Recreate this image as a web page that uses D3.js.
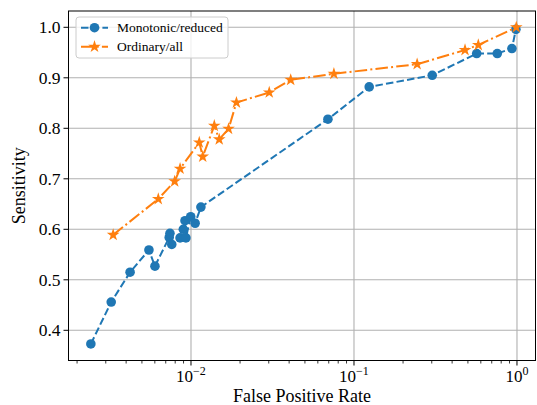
<!DOCTYPE html>
<html>
<head>
<meta charset="utf-8">
<script src="https://cdn.jsdelivr.net/npm/d3@7"></script>
<style>
  body { margin: 0; background: #fff; }
  text { font-family: "Liberation Serif", "DejaVu Serif", serif; fill: #000; }
</style>
</head>
<body>
<script>
// monotonic / reduced model (blue)
var monoFpr = [0.00243, 0.00324, 0.00423, 0.00552, 0.00601, 0.00735, 0.00743, 0.00762,
  0.00857, 0.00897, 0.00919, 0.00931, 0.00996, 0.0106, 0.0115, 0.0692, 0.124, 0.302,
  0.566, 0.757, 0.931, 0.985];
var monoSens = [0.373, 0.456, 0.515, 0.559, 0.527, 0.584, 0.592, 0.570,
  0.583, 0.600, 0.617, 0.583, 0.625, 0.612, 0.644, 0.818, 0.882, 0.905,
  0.948, 0.948, 0.958, 0.996];

// ordinary / all model (orange)
var ordFpr = [0.00333, 0.00630, 0.00794, 0.00857, 0.01124, 0.0118, 0.0139, 0.0149,
  0.0170, 0.0190, 0.0302, 0.0409, 0.0753, 0.244, 0.480, 0.579, 0.99];
var ordSens = [0.589, 0.660, 0.695, 0.720, 0.772, 0.744, 0.805, 0.778,
  0.799, 0.851, 0.871, 0.896, 0.908, 0.927, 0.955, 0.965, 1.0];

var seriesNames = ["Monotonic/reduced", "Ordinary/all"];
var yTicks = [0.4, 0.5, 0.6, 0.7, 0.8, 0.9, 1.0];
var xTicks = [0.01, 0.1, 1];
var xTickExp = ["\u22122", "\u22121", "0"];

var W = 537, H = 405;
var pLeft = 68.5, pRight = 535.5, pTop = 11, pBottom = 360.5;
var blue = "#1f77b4", orange = "#ff7f0e";

var svg = d3.select("body").append("svg")
  .attr("width", W)
  .attr("height", H);

var x = d3.scaleLog().domain([0.001772, 1.299]).range([pLeft, pRight]);
var y = d3.scaleLinear().domain([0.3402, 1.0323]).range([pBottom, pTop]);

// grid
var grid = svg.append("g");
grid.selectAll("line.gx").data(xTicks).enter().append("line")
  .attr("x1", function(d){ return x(d); }).attr("x2", function(d){ return x(d); })
  .attr("y1", pTop).attr("y2", pBottom)
  .attr("stroke", "#b0b0b0").attr("stroke-width", 1.1);
grid.selectAll("line.gy").data(yTicks).enter().append("line")
  .attr("y1", function(d){ return y(d); }).attr("y2", function(d){ return y(d); })
  .attr("x1", pLeft).attr("x2", pRight)
  .attr("stroke", "#b0b0b0").attr("stroke-width", 1.1);

// minor x ticks
var minor = [];
for (var e = -3; e <= 0; e++) {
  for (var m = 2; m <= 9; m++) {
    var v = m * Math.pow(10, e);
    if (v > x.domain()[0] && v < x.domain()[1]) minor.push(v);
  }
}
svg.selectAll("line.minor").data(minor).enter().append("line")
  .attr("x1", function(d){ return x(d); }).attr("x2", function(d){ return x(d); })
  .attr("y1", pBottom).attr("y2", pBottom + 3)
  .attr("stroke", "#000").attr("stroke-width", 0.8);

// major x ticks + labels
svg.selectAll("line.mx").data(xTicks).enter().append("line")
  .attr("x1", function(d){ return x(d); }).attr("x2", function(d){ return x(d); })
  .attr("y1", pBottom).attr("y2", pBottom + 5)
  .attr("stroke", "#000").attr("stroke-width", 1);
var xl = svg.selectAll("text.xl").data(xTicks).enter().append("text")
  .attr("x", function(d){ return x(d); })
  .attr("y", 382)
  .attr("text-anchor", "middle")
  .style("font-size", "17px");
xl.append("tspan").text("10");
xl.append("tspan").attr("dy", -7).style("font-size", "12px")
  .text(function(d, i){ return xTickExp[i]; });

// y ticks + labels
svg.selectAll("line.my").data(yTicks).enter().append("line")
  .attr("y1", function(d){ return y(d); }).attr("y2", function(d){ return y(d); })
  .attr("x1", pLeft - 5).attr("x2", pLeft)
  .attr("stroke", "#000").attr("stroke-width", 1);
svg.selectAll("text.yl").data(yTicks).enter().append("text")
  .attr("x", pLeft - 8)
  .attr("y", function(d){ return y(d) + 6; })
  .attr("text-anchor", "end")
  .style("font-size", "17.5px")
  .text(function(d){ return d.toFixed(1); });

// axis titles
svg.append("text")
  .attr("x", (pLeft + pRight) / 2).attr("y", 402)
  .attr("text-anchor", "middle")
  .style("font-size", "18px")
  .text("False Positive Rate");
svg.append("text")
  .attr("transform", "translate(25," + ((pTop + pBottom) / 2) + ") rotate(-90)")
  .attr("text-anchor", "middle")
  .style("font-size", "18px")
  .text("Sensitivity");

// series
var mono = monoFpr.map(function(d, i){ return [d, monoSens[i]]; });
var ord = ordFpr.map(function(d, i){ return [d, ordSens[i]]; });
var line = d3.line().x(function(d){ return x(d[0]); }).y(function(d){ return y(d[1]); });
var star = d3.symbol().type(d3.symbolStar).size(50);

svg.append("path").datum(mono).attr("d", line)
  .attr("fill", "none").attr("stroke", blue).attr("stroke-width", 2)
  .attr("stroke-dasharray", "7.5,3.2");
svg.selectAll("circle.mono").data(mono).enter().append("circle")
  .attr("cx", function(d){ return x(d[0]); })
  .attr("cy", function(d){ return y(d[1]); })
  .attr("r", 4.8)
  .attr("fill", blue);

svg.append("path").datum(ord).attr("d", line)
  .attr("fill", "none").attr("stroke", orange).attr("stroke-width", 2)
  .attr("stroke-dasharray", "12.5,3.2,2,3.2");
svg.selectAll("path.ord").data(ord).enter().append("path")
  .attr("d", star)
  .attr("transform", function(d){ return "translate(" + x(d[0]) + "," + y(d[1]) + ")"; })
  .attr("fill", orange);

// spines
svg.append("rect")
  .attr("x", pLeft).attr("y", pTop)
  .attr("width", pRight - pLeft).attr("height", pBottom - pTop)
  .attr("fill", "none").attr("stroke", "#000").attr("stroke-width", 1);

// legend
var lg = svg.append("g");
lg.append("rect")
  .attr("x", 76).attr("y", 17).attr("width", 152).attr("height", 41)
  .attr("rx", 3).attr("fill", "#fff").attr("fill-opacity", 0.8)
  .attr("stroke", "#ccc").attr("stroke-width", 1);
var legendRows = [
  { name: seriesNames[0], color: blue, dash: "7.5,3.2", ly: 27.7 },
  { name: seriesNames[1], color: orange, dash: "12.5,3.2,2,3.2", ly: 46.7 }
];
legendRows.forEach(function(r, i){
  lg.append("line")
    .attr("x1", 81).attr("x2", 108).attr("y1", r.ly).attr("y2", r.ly)
    .attr("stroke", r.color).attr("stroke-width", 2)
    .attr("stroke-dasharray", r.dash);
  if (i === 0) {
    lg.append("circle").attr("cx", 94.5).attr("cy", r.ly).attr("r", 4.8).attr("fill", r.color);
  } else {
    lg.append("path").attr("d", star)
      .attr("transform", "translate(94.5," + r.ly + ")").attr("fill", r.color);
  }
  lg.append("text")
    .attr("x", 117).attr("y", r.ly + 4.5)
    .style("font-size", "13.5px")
    .text(r.name);
});
</script>
</body>
</html>
